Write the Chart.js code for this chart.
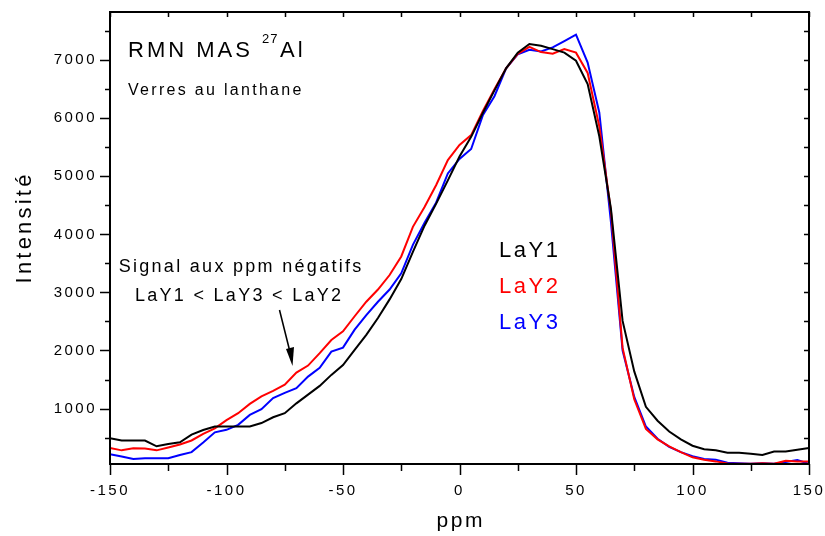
<!DOCTYPE html>
<html>
<head>
<meta charset="utf-8">
<script src="https://cdn.jsdelivr.net/npm/chart.js@4.4.1/dist/chart.umd.min.js"></script>
<style>
  html, body { margin: 0; padding: 0; background: #fff; }
  #wrap { width: 825px; height: 536px; }
</style>
</head>
<body>
<div id="wrap"><canvas id="nmrChart" width="825" height="536"></canvas></div>
<script>
// chemical shift (ppm) and intensities
const ppm = [-150, -145, -140, -135, -130, -125, -120, -115, -110, -105, -100,
             -95, -90, -85, -80, -75, -70, -65, -60, -55, -50,
             -45, -40, -35, -30, -25, -20, -15, -10, -5, 0,
             5, 10, 15, 20, 25, 30, 35, 40, 45, 50,
             55, 60, 65, 70, 75, 80, 85, 90, 95, 100,
             105, 110, 115, 120, 125, 130, 135, 140, 145, 150];

const lay1 = [490, 450, 450, 450, 350, 390, 420, 550, 630, 690, 690,
              690, 690, 750, 850, 920, 1090, 1240, 1390, 1580, 1750,
              2010, 2270, 2560, 2880, 3230, 3700, 4150, 4530, 4930, 5340,
              5680, 6090, 6480, 6860, 7130, 7280, 7250, 7190, 7130, 6990,
              6590, 5690, 4440, 2510, 1640, 1030, 790, 605, 470, 360,
              300, 280, 240, 240, 220, 200, 260, 260, 290, 320];

const lay2 = [320, 280, 315, 310, 280, 330, 380, 450, 565, 660, 800,
              920, 1080, 1210, 1305, 1410, 1620, 1740, 1955, 2180, 2330,
              2590, 2840, 3050, 3300, 3620, 4130, 4470, 4850, 5280, 5540,
              5710, 6120, 6500, 6860, 7110, 7230, 7140, 7110, 7190, 7130,
              6780, 5860, 4400, 2045, 1160, 650, 470, 350, 250, 160,
              120, 90, 55, 48, 48, 60, 48, 100, 90, 88];

const lay3 = [215, 175, 130, 146, 146, 146, 200, 250, 415, 590, 634,
              720, 890, 990, 1180, 1270, 1350, 1550, 1700, 1980, 2050,
              2360, 2610, 2840, 3050, 3330, 3820, 4200, 4550, 5050, 5300,
              5470, 6050, 6380, 6860, 7100, 7180, 7150, 7220, 7330, 7440,
              6960, 6100, 4210, 2000, 1200, 690, 480, 340, 250, 180,
              130, 120, 65, 60, 48, 60, 48, 80, 115, 48];

const xTicks = [-150, -100, -50, 0, 50, 100, 150];
const yTicks = [1000, 2000, 3000, 4000, 5000, 6000, 7000];
const seriesNames = ['LaY1', 'LaY2', 'LaY3'];
const seriesColors = ['#000000', '#ff0000', '#0000ff'];

const FONT = '"Liberation Sans", Arial, sans-serif';

function toPoints(values) {
    return ppm.map((x, i) => ({ x: x, y: values[i] }));
}

// draw a string with letter spacing
function spacedText(ctx, text, x, y, size, color, spacing, align) {
    ctx.save();
    ctx.font = size + 'px ' + FONT;
    ctx.fillStyle = color;
    ctx.letterSpacing = spacing + 'px';
    ctx.textBaseline = 'alphabetic';
    let w = ctx.measureText(text).width - spacing;
    let x0 = x;
    if (align === 'center') x0 = x - w / 2;
    if (align === 'right') x0 = x - w;
    ctx.textAlign = 'left';
    ctx.fillText(text, x0, y);
    ctx.restore();
}

// frame, tick marks, axis titles and annotations
const framePlugin = {
    id: 'framePlugin',
    beforeDraw(chart) {
        chart.ctx.letterSpacing = '2.5px';
    },
    afterDraw(chart) {
        const ctx = chart.ctx;
        const a = chart.chartArea;
        const xs = chart.scales.x;
        const ys = chart.scales.y;
        ctx.save();
        ctx.letterSpacing = '0px';
        ctx.strokeStyle = '#000';
        ctx.lineWidth = 2;
        ctx.strokeRect(a.left, a.top, a.right - a.left, a.bottom - a.top);

        ctx.lineWidth = 1.5;
        ctx.beginPath();
        // x ticks every 25 ppm
        for (let v = -150; v <= 150; v += 25) {
            const px = Math.round(xs.getPixelForValue(v)) + 0.5;
            const major = v % 50 === 0;
            ctx.moveTo(px, a.bottom);
            ctx.lineTo(px, a.bottom + (major ? 11 : 7));
            ctx.moveTo(px, a.top);
            ctx.lineTo(px, a.top + 5);
        }
        // y ticks every 500
        for (let v = 500; v <= 7500; v += 500) {
            const py = Math.round(ys.getPixelForValue(v)) + 0.5;
            const major = v % 1000 === 0;
            ctx.moveTo(a.left, py);
            ctx.lineTo(a.left - (major ? 10 : 5), py);
            ctx.moveTo(a.right, py);
            ctx.lineTo(a.right - 5, py);
        }
        ctx.stroke();

        // axis titles
        spacedText(ctx, 'ppm', (a.left + a.right) / 2, 527, 21, '#000', 2.5, 'center');
        ctx.save();
        ctx.translate(31, 229);
        ctx.rotate(-Math.PI / 2);
        spacedText(ctx, 'Intensité', 0, 0, 22, '#000', 3.2, 'center');
        ctx.restore();

        // title block
        spacedText(ctx, 'RMN MAS', 128, 57, 22, '#000', 3, 'left');
        spacedText(ctx, '27', 262, 43, 13, '#000', 1, 'left');
        spacedText(ctx, 'Al', 280, 57, 22, '#000', 3, 'left');
        spacedText(ctx, 'Verres au lanthane', 128, 95, 16, '#000', 2.3, 'left');

        // note and arrow
        spacedText(ctx, 'Signal aux ppm négatifs', 240, 272, 18, '#000', 2.3, 'center');
        spacedText(ctx, 'LaY1 < LaY3 < LaY2', 238, 301, 18, '#000', 2.3, 'center');
        ctx.lineWidth = 1.5;
        ctx.beginPath();
        ctx.moveTo(279.5, 310);
        ctx.lineTo(290, 352);
        ctx.stroke();
        ctx.fillStyle = '#000';
        ctx.beginPath();
        ctx.moveTo(292.5, 366);
        ctx.lineTo(286, 349);
        ctx.lineTo(294, 347);
        ctx.closePath();
        ctx.fill();

        // legend text
        const legY = [257, 293, 329];
        seriesNames.forEach((name, i) => {
            spacedText(ctx, name, 499, legY[i], 22, seriesColors[i], 2.5, 'left');
        });
        ctx.restore();
    }
};

document.addEventListener('DOMContentLoaded', function() {
    const ctx = document.getElementById('nmrChart').getContext('2d');
    const datasets = [lay1, lay2, lay3].map((vals, i) => ({
        label: seriesNames[i],
        data: toPoints(vals),
        borderColor: seriesColors[i],
        borderWidth: 2,
        pointRadius: 0,
        tension: 0,
        fill: false
    }));

    new Chart(ctx, {
        type: 'line',
        data: { datasets: datasets },
        options: {
            responsive: false,
            animation: false,
            layout: { padding: { left: 10, right: 16, top: 12, bottom: 0 } },
            plugins: {
                legend: { display: false },
                tooltip: { enabled: false }
            },
            scales: {
                x: {
                    type: 'linear',
                    min: -150,
                    max: 150,
                    afterBuildTicks: scale => { scale.ticks = xTicks.map(v => ({ value: v })); },
                    afterFit: scale => {
                        scale.height = 72;
                        scale.paddingLeft = 0;
                        scale.paddingRight = 0;
                    },
                    grid: { display: false, drawTicks: false },
                    border: { display: false },
                    ticks: {
                        padding: 18,
                        maxRotation: 0,
                        color: '#000',
                        font: { family: FONT, size: 15 },
                        callback: v => String(v)
                    }
                },
                y: {
                    type: 'linear',
                    min: 45,
                    max: 7830,
                    afterBuildTicks: scale => { scale.ticks = yTicks.map(v => ({ value: v })); },
                    afterFit: scale => {
                        scale.width = 100;
                        scale.paddingTop = 0;
                        scale.paddingBottom = 0;
                    },
                    grid: { display: false, drawTicks: false },
                    border: { display: false },
                    ticks: {
                        padding: 13,
                        color: '#000',
                        font: { family: FONT, size: 15 },
                        callback: v => String(v)
                    }
                }
            }
        },
        plugins: [framePlugin]
    });
});
</script>
</body>
</html>
